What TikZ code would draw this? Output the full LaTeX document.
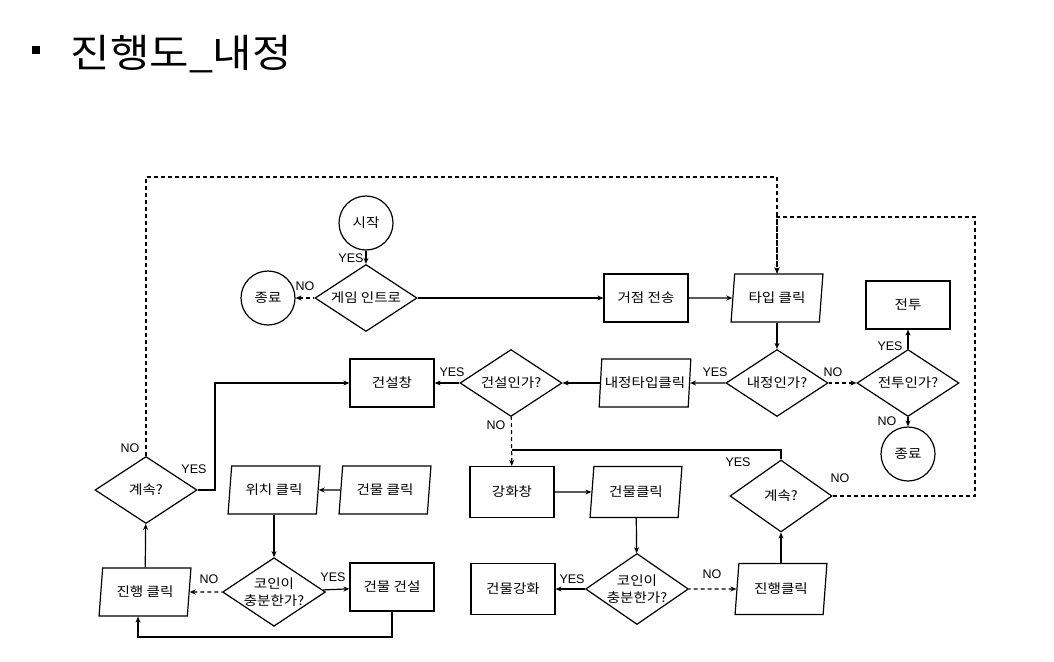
\documentclass[tikz,border=0pt]{standalone}
\usepackage{fontspec}
\setmainfont{Noto Sans CJK KR}
\newfontfamily\labfont{Liberation Sans}
\newfontfamily\titlefont[FakeStretch=1.1]{Noto Sans CJK KR}
\newfontfamily\boxfamily[FakeStretch=1.12]{Noto Sans CJK KR}
\usetikzlibrary{arrows.meta,shapes.geometric}
\newcommand{\boxfont}{\boxfamily\fontsize{13}{16.5}\selectfont}
\tikzset{
    >={Stealth[length=6pt,width=5pt]},
    procbox/.style={rectangle,draw,minimum width=84pt,minimum height=48pt,font=\boxfont},
    iobox/.style={trapezium,trapezium left angle=80,trapezium right angle=100,trapezium stretches=true,draw,minimum width=92pt,minimum height=48pt,inner xsep=0pt,inner ysep=1pt,font=\boxfont},
    decision/.style={diamond,draw,aspect=1.5,inner sep=0pt,minimum width=102pt,minimum height=67pt,align=center,font=\boxfont},
    terminal/.style={circle,draw,minimum size=54pt,inner sep=0pt,font=\boxfont},
    lab/.style={font=\labfont\fontsize{12.5}{14}\selectfont,inner sep=0pt},
    noflow/.style={dash pattern=on 4pt off 3pt}
}

\begin{document}
\begin{tikzpicture}[x=1pt,y=-1pt,line width=1.2pt]
  \useasboundingbox (0,0) rectangle (1054,661);

  \node[fill,minimum size=8pt,inner sep=0pt] (bullet) at (35.5,50) {};
  \node[anchor=base west,inner sep=0pt,font=\titlefont\fontsize{39}{41}\selectfont] (title) at (70,67) {진행도\_내정};

  \node[terminal] (start) at (366,223) {시작};
  \node[decision] (intro) at (366,298) {게임 인트로} edge[<-] (start);
  \node[terminal] (endA) at (268,298) {종료} edge[<-,noflow] (intro);
  \node[procbox] (base) at (646,298) {거점 전송} edge[<-] (intro);
  \node[iobox] (tile) at (777,298) {타입 클릭} edge[<-] (base);
  \node[decision] (isdom) at (777,383) {내정인가?} edge[<-] (tile);
  \node[decision] (isbat) at (908,383) {전투인가?} edge[<-,noflow] (isdom);
  \node[procbox] (battle) at (908,305) {전투} edge[<-] (isbat);
  \node[terminal] (endB) at (908,454) {종료} edge[<-] (isbat);
  \node[iobox] (domtile) at (645,383) {내정타입클릭} edge[<-] (isdom);
  \node[decision] (isbuild) at (511,383) {건설인가?} edge[<-] (domtile);
  \node[procbox] (buildwin) at (392,383) {건설창} edge[<-] (isbuild);

  \node[procbox,minimum height=51pt] (upwin) at (512,492) {강화창} edge[<-,noflow] (isbuild);
  \node[iobox,minimum height=51pt] (bldclickB) at (636,492) {건물클릭} edge[<-] (upwin);
  \node[decision,minimum height=71pt] (coinB) at (637,589) {코인이\\충분한가?} edge[<-] (bldclickB);
  \node[procbox,minimum height=51pt] (upgrade) at (513,589) {건물강화} edge[<-] (coinB);
  \node[iobox,minimum height=51pt] (nextB) at (781,589) {진행클릭} edge[<-,noflow] (coinB);
  \node[decision,minimum height=72pt] (contB) at (781,496) {계속?} edge[<-] (nextB);

  \node[iobox] (bldclickA) at (385,490) {건물 클릭};
  \node[iobox] (posclick) at (274,490) {위치 클릭} edge[<-] (bldclickA);
  \node[decision] (coinA) at (274,592) {코인이\\충분한가?} edge[<-] (posclick);
  \node[procbox] (build) at (392,587) {건물 건설} edge[<-] (coinA);
  \node[iobox] (nextA) at (145,592) {진행 클릭} edge[<-,noflow] (coinA);
  \node[decision] (contA) at (146,490) {계속?} edge[<-] (nextA);

  \coordinate (loopA) at (146,177);
  \coordinate (loopB) at (975,217);
  \coordinate (joinB) at (512,450);
  \coordinate (turnA) at (215,383);
  \coordinate (backA) at (138,637);

  \draw[->,noflow] (contA.north) |- (loopA) -| (tile.north);
  \draw[->,noflow] (contB.east) -| (loopB) -| (tile.north);
  \draw (contB.north) |- (joinB);
  \draw[->] (contA.east) -| (turnA) -- (buildwin.west);
  \draw[->] (build.south) |- (backA) -- (backA |- nextA.south);

  \node[lab] (yesStart) at (351,258) {YES};
  \node[lab] (noIntro) at (305,286) {NO};
  \node[lab] (yesDom) at (715,372) {YES};
  \node[lab] (noDom) at (833,372) {NO};
  \node[lab] (yesBat) at (890,346) {YES};
  \node[lab] (noBat) at (887,421) {NO};
  \node[lab] (yesBuild) at (452,372) {YES};
  \node[lab] (noBuild) at (496,425) {NO};
  \node[lab] (yesCoinB) at (572,579) {YES};
  \node[lab] (noCoinB) at (712,574) {NO};
  \node[lab] (yesContB) at (738,462) {YES};
  \node[lab] (noContB) at (840,478) {NO};
  \node[lab] (noContA) at (130,448) {NO};
  \node[lab] (yesContA) at (194,469) {YES};
  \node[lab] (yesCoinA) at (333,577) {YES};
  \node[lab] (noCoinA) at (209,579) {NO};
\end{tikzpicture}
\end{document}
